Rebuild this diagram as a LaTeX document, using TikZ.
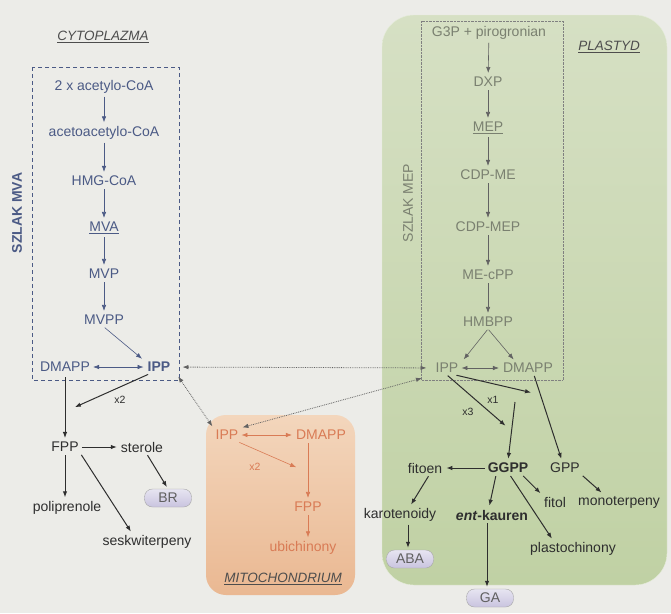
\documentclass[tikz,border=0pt]{standalone}
\usepackage{fontspec}
\setmainfont{Liberation Sans}
\usetikzlibrary{arrows.meta}
\definecolor{bgray}{HTML}{ECECE8}
\definecolor{cytoblue}{HTML}{4B5A85}
\definecolor{plastlight}{HTML}{D6E0C4}
\definecolor{plastgreen}{HTML}{C0D1A4}
\definecolor{mitolight}{HTML}{F3D6BC}
\definecolor{mitodark}{HTML}{EAB892}
\definecolor{mitotext}{HTML}{D97B55}
\definecolor{meptext}{HTML}{7A8070}
\definecolor{darktext}{HTML}{2E2E2E}
\definecolor{pillfill}{HTML}{C9C4DF}
\begin{document}
\begin{tikzpicture}[x=1pt,y=-1pt,>={Latex[length=6pt,width=4.5pt]},font=\fontsize{14}{16}\selectfont,inner sep=2pt,
    cyto/.style={text=cytoblue},
    mep/.style={text=meptext},
    mito/.style={text=mitotext},
    dark/.style={text=darktext},
    title/.style={text=darktext!85,font=\fontsize{13.5}{16}\selectfont\itshape},
    small/.style={font=\fontsize{10.5}{12}\selectfont},
    pill/.style={draw=gray!70,top color=white!55!pillfill,bottom color=pillfill,rounded corners=8pt,
        minimum width=47pt,minimum height=18pt,text=gray!75!black},
    cytoarr/.style={->,semithick,cytoblue,shorten >=2pt,shorten <=1pt},
    meparr/.style={->,semithick,darktext!75,shorten >=2pt,shorten <=1pt},
    mitoarr/.style={->,semithick,mitotext,shorten >=2pt,shorten <=1pt},
    darr/.style={->,line width=1pt,darktext,shorten >=2pt,shorten <=1pt},
    dotarr/.style={<->,densely dotted,thick,darktext!75}]
    \useasboundingbox (0,0) rectangle (671,613);
    \fill[bgray] (0,0) rectangle (671,613);

    % compartments
    \shade[top color=plastlight,bottom color=plastgreen,rounded corners=32pt] (382,15) rectangle (667,585);
    \draw[white!60!plastgreen,rounded corners=32pt] (382,15) rectangle (667,585);
    \shade[top color=mitolight,bottom color=mitodark,rounded corners=20pt] (206,415) rectangle (355,595);
    \draw[cytoblue,line width=1pt,dash pattern=on 4pt off 3pt] (32,67) rectangle (179,380);
    \draw[gray,densely dotted] (421,21) rectangle (563,380);

    % cytoplazma
    \node[title] (tcyto) at (103,37) {\underline{CYTOPLAZMA}};
    \node[cyto,rotate=90] (szmva) at (17,213) {\bfseries SZLAK MVA};
    \node[cyto] (acoa) at (104,87) {2 x acetylo-CoA};
    \node[cyto] (aacoa) at (104,133) {acetoacetylo-CoA};
    \node[cyto] (hmg) at (104,181) {HMG-CoA};
    \node[cyto] (mva) at (104,228) {\underline{MVA}};
    \node[cyto] (mvp) at (104,274) {MVP};
    \node[cyto] (mvpp) at (104,320) {MVPP};
    \node[cyto] (cdmapp) at (65,367) {DMAPP};
    \node[cyto] (cipp) at (159,367) {\bfseries IPP};
    \foreach \a/\b in {acoa/aacoa,aacoa/hmg,hmg/mva,mva/mvp,mvp/mvpp}
        \draw[cytoarr] (\a) -- (\b);
    \draw[cytoarr] (mvpp.south) -- ([xshift=-2pt]cipp.north west);
    \draw[cytoarr,<->] (cdmapp) -- (cipp);

    \node[dark] (fpp) at (65,447) {FPP};
    \node[dark] (sterole) at (142,447) {sterole};
    \node[pill] (br) at (168,498) {BR};
    \node[dark] (polip) at (67,508) {poliprenole};
    \node[dark] (seskw) at (147,542) {seskwiterpeny};
    \node[dark,small] (lcx) at (120,400) {x2};
    \coordinate (cjoin) at (73,408);
    \draw[darr] ([xshift=-10pt]cipp.south) -- (cjoin);
    \draw[darr,shorten <=3pt] (cdmapp) -- (fpp);
    \draw[darr] (fpp) -- (sterole);
    \draw[darr] ([xshift=5pt]sterole.south) -- (br.north);
    \draw[darr] (fpp) -- (fpp |- polip.north);
    \draw[darr] (fpp.south east) -- ([xshift=-15pt]seskw.north);

    % mitochondrium
    \node[title] (tmito) at (283,579) {\underline{MITOCHONDRIUM}};
    \node[mito] (mipp) at (227,435) {IPP};
    \node[mito] (mdmapp) at (321,435) {DMAPP};
    \node[mito] (mfpp) at (308,507) {FPP};
    \node[mito] (ubi) at (303,548) {ubichinony};
    \node[mito,small] (lmx) at (255,467) {x2};
    \coordinate (mjoin) at (298,468);
    \draw[mitoarr,<->] (mipp) -- (mdmapp);
    \draw[mitoarr] ([xshift=-2pt]mipp.south east) -- (mjoin);
    \draw[mitoarr] (mfpp.north |- mdmapp.south) -- (mfpp);
    \draw[mitoarr] (mfpp) -- (mfpp |- ubi.north);

    % plastyd
    \node[title] (tplast) at (609,47) {\underline{PLASTYD}};
    \node[mep,rotate=90] (szmep) at (408,203) {SZLAK MEP};
    \node[mep] (g3p) at (489,33) {G3P + pirogronian};
    \node[mep] (dxp) at (488,82) {DXP};
    \node[mep] (mep) at (488,128) {\underline{MEP}};
    \node[mep] (cdpme) at (488,175) {CDP-ME};
    \node[mep] (cdpmep) at (488,227) {CDP-MEP};
    \node[mep] (mecpp) at (488,275) {ME-cPP};
    \node[mep] (hmbpp) at (488,322) {HMBPP};
    \node[mep] (pipp) at (447,368) {IPP};
    \node[mep] (pdmapp) at (528,368) {DMAPP};
    \foreach \a/\b in {g3p/dxp,dxp/mep,mep/cdpme,cdpme/cdpmep,cdpmep/mecpp,mecpp/hmbpp}
        \draw[meparr] (\a) -- (\b);
    \draw[meparr] (hmbpp.south) -- ([xshift=2pt]pipp.north east);
    \draw[meparr] (hmbpp.south) -- ([xshift=14pt]pdmapp.north west);
    \draw[meparr,<->] (pipp) -- (pdmapp);

    \node[dark] (ggpp) at (508,468) {\bfseries GGPP};
    \node[dark] (gpp) at (565,468) {GPP};
    \node[dark] (fitoen) at (425,468) {fitoen};
    \node[dark] (karo) at (400,515) {karotenoidy};
    \node[dark] (entk) at (492,515) {\bfseries\textit{ent}-kauren};
    \node[dark] (fitol) at (555,502) {fitol};
    \node[dark] (mono) at (619,502) {monoterpeny};
    \node[dark] (plast) at (573,549) {plastochinony};
    \node[pill] (aba) at (410,559) {ABA};
    \node[pill] (ga) at (490,598) {GA};
    \node[dark,small] (lx1) at (493,400) {x1};
    \node[dark,small] (lx3) at (468,412) {x3};
    \coordinate (pjoin) at (533,393);
    \coordinate (gjoin) at (507,427);
    \coordinate (gstart) at (515,402);
    \draw[darr] ([xshift=-5pt]pipp.south east) -- (pjoin);
    \draw[darr] (pipp.south) -- (gjoin);
    \draw[darr,shorten <=0pt] (gstart) -- (ggpp.north);
    \draw[darr] ([xshift=6pt]pdmapp.south) -- ([xshift=-3pt]gpp.north);
    \draw[darr] (ggpp) -- (fitoen);
    \draw[darr] ([xshift=4pt]fitoen.south) -- ([xshift=10pt]karo.north);
    \draw[darr] ([xshift=-12pt]ggpp.south) -- ([xshift=-3pt]entk.north);
    \draw[darr] ([xshift=-8pt]ggpp.south east) -- (fitol.north west);
    \draw[darr] ([xshift=2pt]ggpp.south) -- ([xshift=-20pt]plast.north);
    \draw[darr] (gpp.south east) -- ([xshift=-16pt]mono.north);
    \draw[darr] ([xshift=8pt]karo.south) -- ([xshift=-2pt]aba.north);
    \draw[darr] ([xshift=-5pt]entk.south) -- ([xshift=-3pt]ga.north);

    % exchange of IPP
    \draw[dotarr,shorten <=10pt,shorten >=7pt] (cipp) -- (pipp);
    \draw[dotarr,shorten <=3pt,shorten >=2pt] ([xshift=4pt]cipp.south east) -- (mipp.north west);
    \draw[dotarr,shorten <=2pt,shorten >=12pt] (mipp.north east) -- (pipp.south west);
\end{tikzpicture}
\end{document}
